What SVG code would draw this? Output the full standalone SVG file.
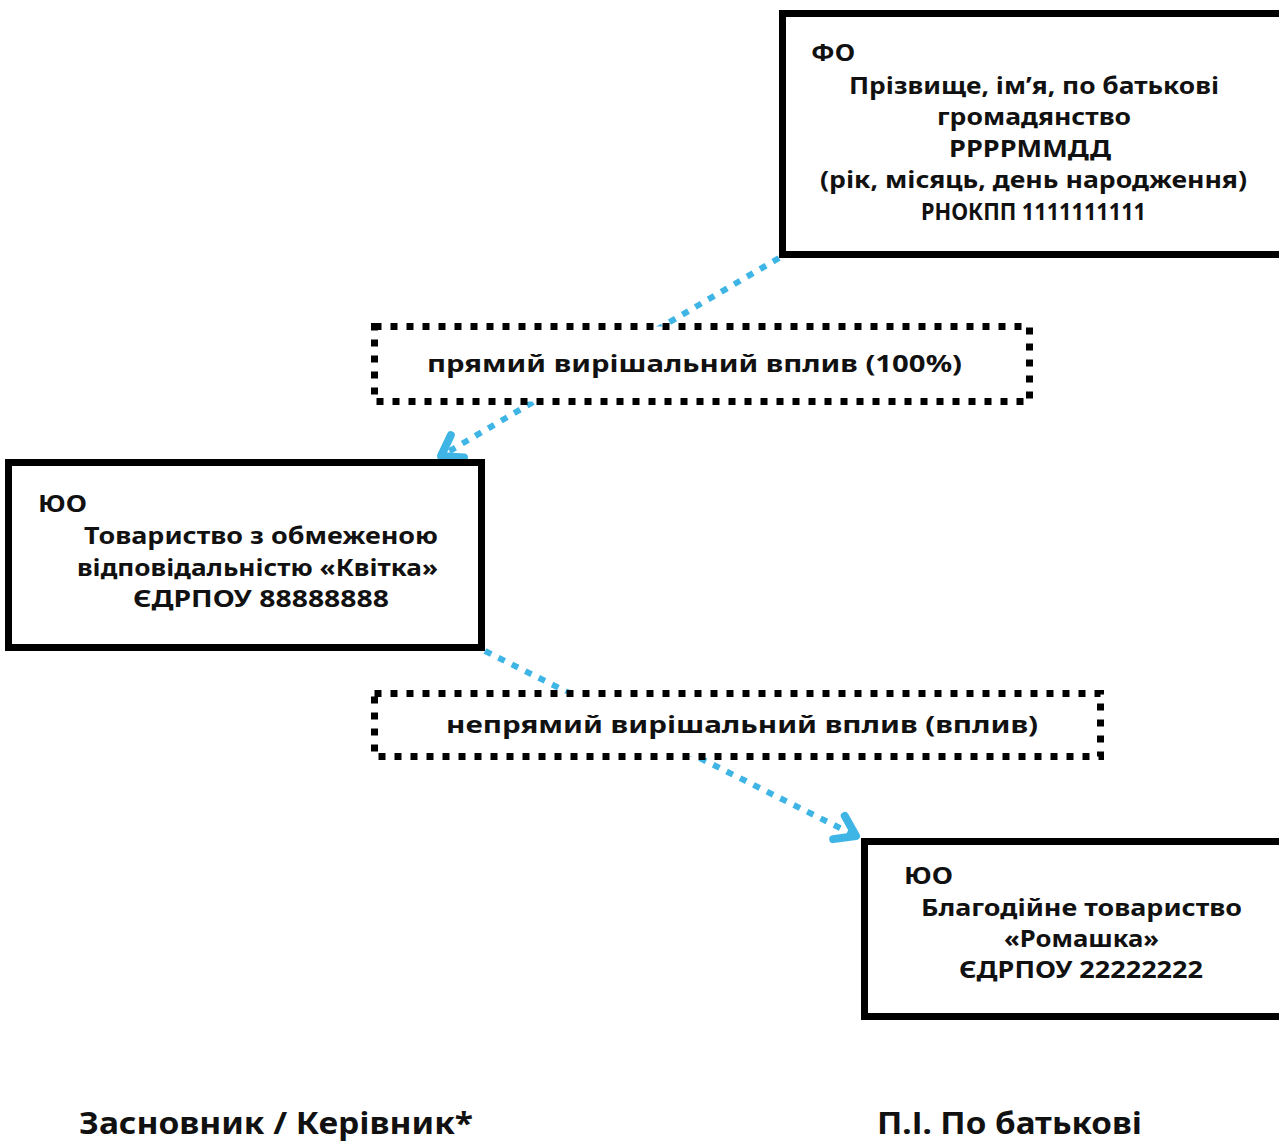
<svg xmlns="http://www.w3.org/2000/svg" width="1279" height="1141" viewBox="0 0 1279 1141">
<style>
.t{font-family:"Noto Sans","Open Sans","DejaVu Sans",sans-serif;font-weight:bold;font-size:24px;fill:#111}
.box{fill:#fff;stroke:#000;stroke-width:7}
.lbl{fill:#fff;stroke:#000;stroke-width:7;stroke-dasharray:7 9}
.con{fill:none;stroke:#3fb5e6;stroke-width:6;stroke-dasharray:7 8}
.big{font-size:31px}
</style>
<defs>
<marker id="arr" markerUnits="userSpaceOnUse" markerWidth="40" markerHeight="40" refX="0" refY="0" viewBox="-30 -20 40 40" orient="auto" overflow="visible">
<path d="M-19,-13 L0,0 L-19,13" fill="none" stroke="#3fb5e6" stroke-width="8" stroke-linecap="round" stroke-linejoin="round"/>
</marker>
</defs>
<g id="connectors">
<line class="con" x1="779" y1="258" x2="441" y2="456" marker-end="url(#arr)"/>
<line class="con" x1="485" y1="651" x2="856" y2="836" marker-end="url(#arr)"/>
</g>
<g id="fo">
<rect class="box" x="782.5" y="13.5" width="510" height="241"/>
<text class="t" x="811" y="61" textLength="44" lengthAdjust="spacingAndGlyphs">ФО</text>
<text class="t" x="849" y="94" textLength="370" lengthAdjust="spacingAndGlyphs">Прізвище, ім’я, по батькові</text>
<text class="t" x="937" y="125" textLength="194" lengthAdjust="spacingAndGlyphs">громадянство</text>
<text class="t" x="949" y="157" textLength="162" lengthAdjust="spacingAndGlyphs">РРРРММДД</text>
<text class="t" x="820" y="188" textLength="427" lengthAdjust="spacingAndGlyphs">(рік, місяць, день народження)</text>
<text class="t" x="921" y="220" textLength="225" lengthAdjust="spacingAndGlyphs">РНОКПП 1111111111</text>
</g>
<g id="label1">
<rect class="lbl" x="374.5" y="326.5" width="655" height="75"/>
<text class="t" x="427" y="372" textLength="535" lengthAdjust="spacingAndGlyphs">прямий вирішальний вплив (100%)</text>
</g>
<g id="yuo1">
<rect class="box" x="8.5" y="462.5" width="473" height="185"/>
<text class="t" x="38" y="512" textLength="49" lengthAdjust="spacingAndGlyphs">ЮО</text>
<text class="t" x="84" y="544" textLength="354" lengthAdjust="spacingAndGlyphs">Товариство з обмеженою</text>
<text class="t" x="77" y="576" textLength="361" lengthAdjust="spacingAndGlyphs">відповідальністю «Квітка»</text>
<text class="t" x="133" y="607" textLength="256" lengthAdjust="spacingAndGlyphs">ЄДРПОУ 88888888</text>
</g>
<g id="label2">
<rect class="lbl" x="374.5" y="693.5" width="726" height="63"/>
<text class="t" x="446" y="733" textLength="592" lengthAdjust="spacingAndGlyphs">непрямий вирішальний вплив (вплив)</text>
</g>
<g id="yuo2">
<rect class="box" x="864.5" y="841.5" width="430" height="175"/>
<text class="t" x="904" y="884" textLength="49" lengthAdjust="spacingAndGlyphs">ЮО</text>
<text class="t" x="921" y="916" textLength="321" lengthAdjust="spacingAndGlyphs">Благодійне товариство</text>
<text class="t" x="1004" y="947" textLength="155" lengthAdjust="spacingAndGlyphs">«Ромашка»</text>
<text class="t" x="959" y="978" textLength="244" lengthAdjust="spacingAndGlyphs">ЄДРПОУ 22222222</text>
</g>
<g id="footer">
<text class="t big" x="79" y="1134" textLength="394" lengthAdjust="spacingAndGlyphs">Засновник / Керівник*</text>
<text class="t big" x="877" y="1134" textLength="265" lengthAdjust="spacingAndGlyphs">П.І. По батькові</text>
</g>
</svg>
